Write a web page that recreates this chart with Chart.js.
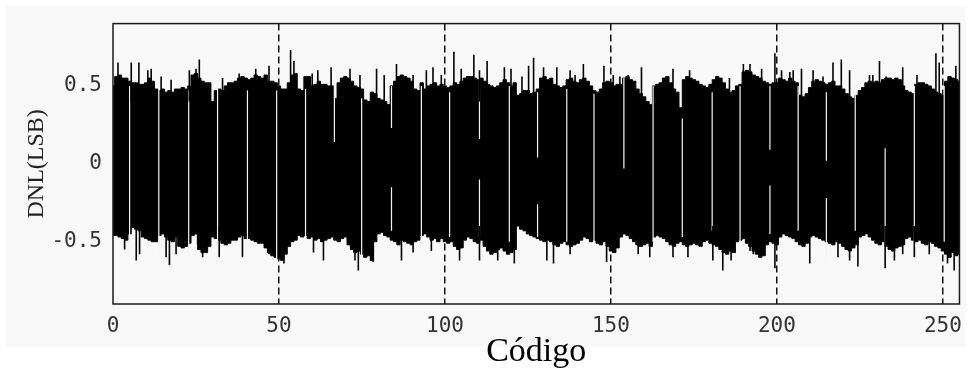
<!DOCTYPE html>
<html>
<head>
<meta charset="utf-8">
<script src="https://cdn.jsdelivr.net/npm/chart.js@4"></script>
<style>
  html, body { margin: 0; padding: 0; background: #fff; }
</style>
</head>
<body>
<canvas id="dnl" width="972" height="372"></canvas>
<script>
// DNL per code: upper and lower edge of the trace (LSB)
const dnlHigh = [
  0.50, 0.56, 0.57, 0.55, 0.55, 0.53, 0.52, 0.52, 0.51, 0.51,
  0.52, 0.55, 0.53, 0.48, 0.47, 0.48, 0.46, 0.47, 0.46, 0.48,
  0.48, 0.49, 0.48, 0.50, 0.57, 0.58, 0.55, 0.53, 0.52, 0.52,
  0.40, 0.47, 0.48, 0.47, 0.50, 0.52, 0.52, 0.53, 0.55, 0.56,
  0.55, 0.54, 0.55, 0.57, 0.56, 0.55, 0.57, 0.53, 0.53, 0.52,
  0.50, 0.48, 0.48, 0.52, 0.57, 0.58, 0.48, 0.47, 0.56, 0.56,
  0.50, 0.51, 0.53, 0.51, 0.51, 0.50, 0.50, 0.42, 0.52, 0.55,
  0.56, 0.55, 0.53, 0.50, 0.49, 0.48, 0.41, 0.40, 0.46, 0.45,
  0.42, 0.41, 0.40, 0.38, 0.50, 0.53, 0.56, 0.57, 0.56, 0.55,
  0.53, 0.48, 0.47, 0.52, 0.48, 0.50, 0.51, 0.52, 0.50, 0.51,
  0.50, 0.49, 0.50, 0.52, 0.51, 0.53, 0.55, 0.56, 0.56, 0.55,
  0.54, 0.55, 0.53, 0.51, 0.50, 0.49, 0.50, 0.52, 0.54, 0.52,
  0.50, 0.52, 0.44, 0.45, 0.47, 0.47, 0.45, 0.46, 0.48, 0.55,
  0.56, 0.54, 0.55, 0.51, 0.50, 0.49, 0.50, 0.54, 0.55, 0.53,
  0.52, 0.54, 0.55, 0.53, 0.50, 0.47, 0.46, 0.48, 0.52, 0.53,
  0.52, 0.50, 0.51, 0.51, 0.55, 0.56, 0.54, 0.53, 0.48, 0.45,
  0.43, 0.40, 0.38, 0.50, 0.51, 0.52, 0.55, 0.56, 0.52, 0.48,
  0.46, 0.36, 0.54, 0.56, 0.55, 0.54, 0.53, 0.51, 0.50, 0.49,
  0.51, 0.54, 0.56, 0.55, 0.52, 0.48, 0.46, 0.47, 0.50, 0.51,
  0.59, 0.60, 0.59, 0.57, 0.56, 0.55, 0.53, 0.52, 0.51, 0.52,
  0.52, 0.55, 0.54, 0.53, 0.55, 0.53, 0.52, 0.44, 0.43, 0.45,
  0.49, 0.53, 0.54, 0.53, 0.52, 0.51, 0.52, 0.53, 0.50, 0.50,
  0.48, 0.45, 0.43, 0.42, 0.44, 0.47, 0.49, 0.52, 0.53, 0.52,
  0.53, 0.52, 0.54, 0.55, 0.55, 0.54, 0.55, 0.54, 0.50, 0.47,
  0.46, 0.45, 0.51, 0.52, 0.52, 0.51, 0.50, 0.48, 0.46, 0.45,
  0.44, 0.53, 0.56, 0.55, 0.54, 0.53
];
const dnlLow = [
  -0.46, -0.46, -0.47, -0.48, -0.49, -0.45, -0.41, -0.42, -0.43, -0.47,
  -0.48, -0.49, -0.50, -0.50, -0.46, -0.45, -0.47, -0.49, -0.50, -0.47,
  -0.53, -0.54, -0.53, -0.51, -0.46, -0.45, -0.55, -0.57, -0.57, -0.53,
  -0.47, -0.48, -0.49, -0.51, -0.52, -0.51, -0.49, -0.49, -0.47, -0.46,
  -0.48, -0.48, -0.49, -0.50, -0.51, -0.51, -0.54, -0.57, -0.59, -0.60,
  -0.61, -0.62, -0.58, -0.53, -0.50, -0.49, -0.46, -0.47, -0.46, -0.48,
  -0.47, -0.49, -0.48, -0.50, -0.49, -0.48, -0.47, -0.49, -0.50, -0.48,
  -0.47, -0.52, -0.55, -0.57, -0.56, -0.58, -0.60, -0.59, -0.62, -0.50,
  -0.45, -0.44, -0.46, -0.47, -0.49, -0.50, -0.52, -0.49, -0.50, -0.51,
  -0.52, -0.50, -0.49, -0.46, -0.45, -0.47, -0.49, -0.48, -0.50, -0.48,
  -0.50, -0.51, -0.50, -0.53, -0.55, -0.54, -0.49, -0.47, -0.48, -0.50,
  -0.51, -0.49, -0.53, -0.56, -0.58, -0.57, -0.55, -0.54, -0.56, -0.58,
  -0.57, -0.55, -0.40, -0.42, -0.43, -0.45, -0.46, -0.47, -0.48, -0.49,
  -0.50, -0.49, -0.50, -0.52, -0.53, -0.51, -0.50, -0.52, -0.53, -0.52,
  -0.51, -0.49, -0.47, -0.48, -0.50, -0.49, -0.51, -0.52, -0.50, -0.53,
  -0.56, -0.57, -0.54, -0.47, -0.45, -0.46, -0.48, -0.50, -0.52, -0.53,
  -0.52, -0.51, -0.53, -0.47, -0.46, -0.47, -0.48, -0.50, -0.52, -0.53,
  -0.51, -0.50, -0.52, -0.53, -0.52, -0.51, -0.52, -0.53, -0.50, -0.49,
  -0.51, -0.52, -0.53, -0.55, -0.57, -0.58, -0.56, -0.57, -0.50, -0.49,
  -0.48, -0.51, -0.53, -0.56, -0.58, -0.60, -0.59, -0.52, -0.50, -0.51,
  -0.52, -0.47, -0.45, -0.46, -0.47, -0.48, -0.50, -0.52, -0.53, -0.51,
  -0.47, -0.46, -0.47, -0.48, -0.49, -0.50, -0.51, -0.52, -0.50, -0.51,
  -0.53, -0.55, -0.56, -0.54, -0.52, -0.47, -0.46, -0.45, -0.47, -0.49,
  -0.51, -0.52, -0.50, -0.53, -0.55, -0.56, -0.54, -0.53, -0.52, -0.48,
  -0.47, -0.49, -0.50, -0.49, -0.51, -0.52, -0.50, -0.51, -0.53, -0.54,
  -0.56, -0.58, -0.60, -0.57, -0.59, -0.58
];

// isolated peaks that stick out of the band
const peakHighCodes = [1.5, 5.5, 7.8, 10.5, 11.5, 14.5, 17.5, 23, 25, 26, 33, 38, 43, 47, 53.5, 54.5, 60,
  61.7, 65.7, 71.4, 74.4, 79.4, 81.7, 85.4, 90.4, 94.4, 96.4, 98.9, 102.7, 104.9, 108.7, 110.4, 112.7,
  117.9, 119.9, 123.2, 125.2, 126.7, 129.7, 133.7, 137.7, 139.2, 141.7, 147.9, 150.7, 152.7, 155.2,
  159.2, 168.7, 173.7, 185.7, 189.9, 191.9, 195.4, 199.4, 201.4, 203.9, 204.9, 207.4, 210.9, 213.9,
  216.9, 219.4, 221.9, 227.9, 228.9, 230.9, 232.9, 237.9, 242.2, 247.9, 248.9, 253.9];
const peakHighValues = [0.65, 0.65, 0.65, 0.60, 0.61, 0.56, 0.54, 0.60, 0.61, 0.67, 0.55, 0.58, 0.61, 0.63, 0.73, 0.66, 0.58,
  0.60, 0.62, 0.61, 0.57, 0.61, 0.57, 0.64, 0.57, 0.60, 0.62, 0.57, 0.72, 0.61, 0.70, 0.60, 0.66,
  0.62, 0.61, 0.56, 0.63, 0.68, 0.62, 0.62, 0.60, 0.57, 0.64, 0.63, 0.57, 0.56, 0.57,
  0.62, 0.61, 0.60, 0.55, 0.64, 0.64, 0.61, 0.71, 0.60, 0.59, 0.60, 0.61, 0.60, 0.56,
  0.65, 0.67, 0.60, 0.57, 0.57, 0.66, 0.56, 0.62, 0.57, 0.71, 0.65, 0.63];
const peakLowCodes = [3.5, 7, 8, 16, 17, 19, 25.5, 27, 32, 39, 47, 51.5, 60.4, 63.4, 72.9, 73.9, 78.4,
  86.9, 90.4, 95.9, 104.4, 110.4, 115.9, 120.9, 130.7, 132.7, 137.7, 148.7, 158.2, 161.7, 168.7,
  173.2, 180.7, 183.7, 186.2, 191.9, 192.9, 199.4, 209.9, 218.4, 221.9, 224.4, 232.6, 235.4, 237.9,
  241.4, 245.9, 251.4, 253.4];
const peakLowValues = [-0.55, -0.62, -0.58, -0.60, -0.65, -0.58, -0.52, -0.60, -0.60, -0.60, -0.58, -0.64, -0.57, -0.62, -0.62, -0.685, -0.63,
  -0.62, -0.57, -0.56, -0.62, -0.62, -0.62, -0.64, -0.62, -0.64, -0.58, -0.63, -0.58, -0.60, -0.60,
  -0.60, -0.62, -0.685, -0.62, -0.56, -0.58, -0.67, -0.64, -0.60, -0.62, -0.66, -0.67, -0.62, -0.58,
  -0.60, -0.58, -0.64, -0.685];

// thin breaks in the trace: code, lower and upper end
const gapCodes = [5, 13.8, 22.8, 31.5, 40.5, 49.3, 58, 66.7, 74.9, 83.9, 83.9, 92.9, 101.4, 110.4, 110.4,
  119.4, 127.9, 127.9, 136.7, 144.9, 153.9, 162.7, 171.5, 180.5, 188.9, 197.9, 197.9, 206.4, 214.9,
  214.9, 223.6, 232.6, 241.4, 250.4];
const gapFrom = [-0.55, -0.60, -0.58, -0.60, -0.55, -0.62, -0.50, 0.14, -0.62, 0.23, -0.43, -0.50, -0.47, 0.16, -0.47,
  -0.50, 0.04, -0.47, -0.50, -0.50, -0.03, -0.50, -0.47, -0.43, -0.50, 0.09, -0.45, -0.43, 0.02,
  -0.62, -0.43, -0.67, -0.50, -0.50];
const gapTo = [0.50, 0.48, 0.47, 0.50, 0.47, 0.47, 0.48, 0.50, 0.42, 0.50, -0.15, 0.50, 0.46, 0.61, -0.10,
  0.50, 0.46, -0.26, 0.48, 0.45, 0.55, 0.50, 0.29, 0.46, 0.50, 0.50, -0.14, 0.50, 0.46,
  -0.22, 0.50, 0.10, 0.50, 0.50];

const xTicks = [0, 50, 100, 150, 200, 250];
const yTicks = [-0.5, 0, 0.5];

const codes = dnlHigh.map((_, i) => i);
const tickFont = { family: 'DejaVu Sans Mono', size: 21 };

// light panel behind the figure and the closed box around the plot
const framePlugin = {
  id: 'frame',
  beforeDraw(chart) {
    const ctx = chart.ctx;
    ctx.save();
    ctx.fillStyle = '#ffffff';
    ctx.fillRect(0, 0, chart.width, chart.height);
    ctx.fillStyle = '#f8f8f8';
    ctx.fillRect(6, 6, 960, 341);
    ctx.restore();
  },
  afterDatasetsDraw(chart) {
    const { ctx, chartArea: a } = chart;
    ctx.save();
    ctx.strokeStyle = '#1a1a1a';
    ctx.lineWidth = 1.5;
    ctx.strokeRect(a.left, a.top, a.right - a.left, a.bottom - a.top);
    ctx.restore();
  }
};

new Chart(document.getElementById('dnl'), {
  type: 'line',
  data: {
    datasets: [
      {
        type: 'bar',
        label: 'peaks+',
        data: peakHighCodes.map((c, i) => ({ x: c, y: [0.4, peakHighValues[i]] })),
        backgroundColor: '#000',
        barThickness: 1.6,
        inflateAmount: 0,
        grouped: false,
        order: 0
      },
      {
        type: 'bar',
        label: 'peaks-',
        data: peakLowCodes.map((c, i) => ({ x: c, y: [-0.4, peakLowValues[i]] })),
        backgroundColor: '#000',
        barThickness: 1.6,
        inflateAmount: 0,
        grouped: false,
        order: 0
      },
      {
        type: 'bar',
        label: 'gaps',
        data: gapCodes.map((c, i) => ({ x: c, y: [gapFrom[i], gapTo[i]] })),
        backgroundColor: '#f4f4f4',
        barThickness: 1.2,
        inflateAmount: 0,
        grouped: false,
        order: 1
      },
      {
        label: 'max',
        data: codes.map((c, i) => ({ x: c, y: dnlHigh[i] })),
        stepped: 'middle',
        borderColor: '#000',
        borderWidth: 1,
        backgroundColor: '#000',
        fill: '+1',
        pointRadius: 0,
        order: 2
      },
      {
        label: 'min',
        data: codes.map((c, i) => ({ x: c, y: dnlLow[i] })),
        stepped: 'middle',
        borderColor: '#000',
        borderWidth: 1,
        fill: false,
        pointRadius: 0,
        order: 2
      }
    ]
  },
  options: {
    responsive: false,
    animation: false,
    layout: { padding: { left: 0, right: 8, top: 21, bottom: 0 } },
    plugins: {
      legend: { display: false },
      tooltip: { enabled: false }
    },
    scales: {
      x: {
        type: 'linear',
        min: 0,
        max: 255,
        offset: false,
        afterBuildTicks: s => { s.ticks = xTicks.map(v => ({ value: v })); },
        afterFit: s => { s.height = 68; },
        grid: {
          offset: false,
          color: c => (c.tick && c.tick.value === 0 ? 'rgba(0,0,0,0)' : '#111'),
          lineWidth: 1.5,
          drawTicks: false
        },
        border: { display: false, dash: [7, 4] },
        ticks: { padding: 10, font: tickFont, color: '#333', maxRotation: 0 },
        title: {
          display: true,
          text: 'Código',
          font: { family: 'Liberation Serif', size: 34 },
          color: '#000',
          padding: 0
        }
      },
      y: {
        min: -0.9,
        max: 0.9,
        afterBuildTicks: s => { s.ticks = yTicks.map(v => ({ value: v })); },
        afterFit: s => { s.width = 113; },
        grid: { display: false, drawTicks: false },
        border: { display: false },
        ticks: { padding: 11, font: tickFont, color: '#333' },
        title: {
          display: true,
          text: 'DNL(LSB)',
          font: { family: 'Liberation Serif', size: 24 },
          color: '#222',
          padding: { top: 22, bottom: 0 }
        }
      }
    }
  },
  plugins: [framePlugin]
});
</script>
</body>
</html>
